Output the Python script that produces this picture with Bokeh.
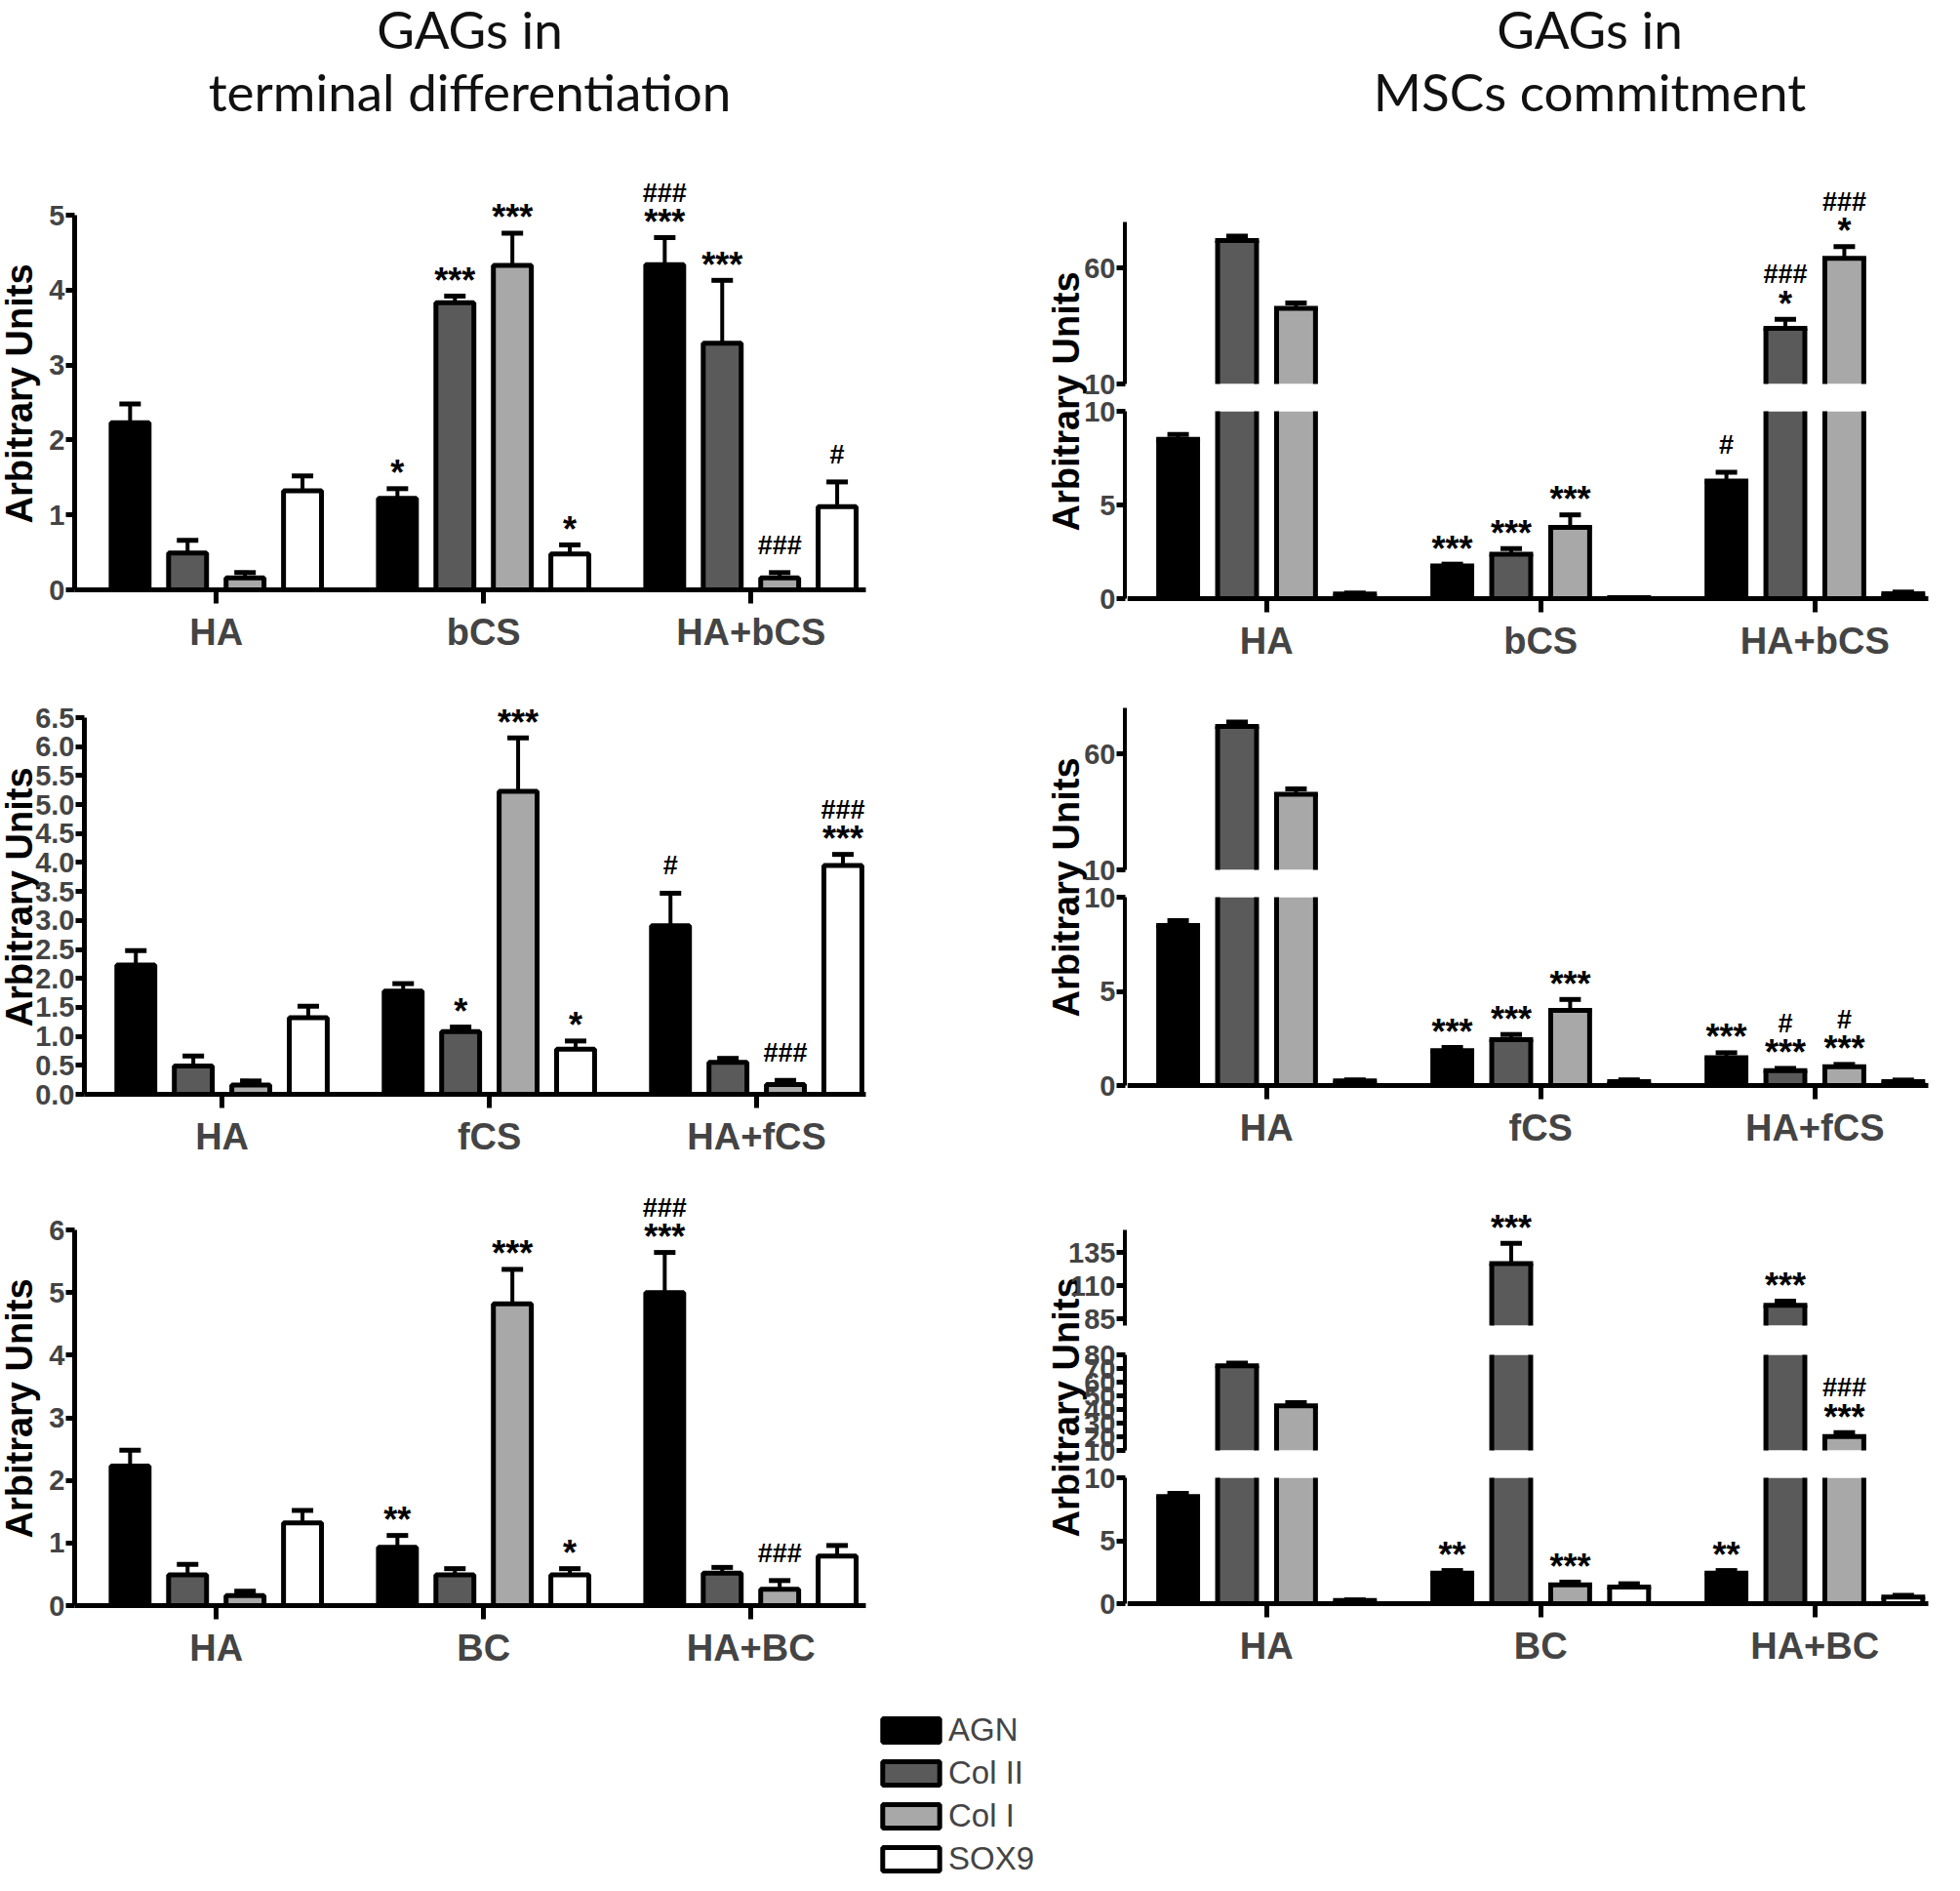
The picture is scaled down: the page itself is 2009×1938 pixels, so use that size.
import numpy as np
from bokeh.plotting import figure
from bokeh.models import (ColumnDataSource, FixedTicker, Range1d, Legend, LegendItem,
                          PrintfTickFormatter, LinearAxis)
from bokeh.layouts import column, row
from bokeh.embed import file_html
from bokeh.resources import INLINE
from bokeh.core.properties import value

# ---------------------------------------------------------------- data
series = ["AGN", "Col II", "Col I", "SOX9"]
series_colors = ["#000000", "#5a5a5a", "#a8a8a8", "#ffffff"]

title_left = ["GAGs in", "terminal differentiation"]
title_right = ["GAGs in", "MSCs commitment"]
y_title = "Arbitrary Units"

groups_bcs = ["HA", "bCS", "HA+bCS"]
groups_fcs = ["HA", "fCS", "HA+fCS"]
groups_bc = ["HA", "BC", "HA+BC"]

# terminal differentiation (rows = groups, columns = series)
td_bcs_mean = [[2.23, 0.49, 0.16, 1.32], [1.22, 3.83, 4.33, 0.48], [4.34, 3.29, 0.16, 1.11]]
td_bcs_sem = [[0.25, 0.17, 0.07, 0.20], [0.13, 0.09, 0.43, 0.12], [0.36, 0.84, 0.07, 0.33]]
td_bcs_star = [["", "", "", ""], ["*", "***", "***", "*"], ["***", "***", "", ""]]
td_bcs_hash = [["", "", "", ""], ["", "", "", ""], ["###", "", "###", "#"]]

td_fcs_mean = [[2.23, 0.49, 0.16, 1.32], [1.78, 1.08, 5.23, 0.78], [2.91, 0.55, 0.17, 3.95]]
td_fcs_sem = [[0.25, 0.17, 0.07, 0.20], [0.13, 0.08, 0.92, 0.14], [0.56, 0.07, 0.07, 0.19]]
td_fcs_star = [["", "", "", ""], ["", "*", "***", "*"], ["", "", "", "***"]]
td_fcs_hash = [["", "", "", ""], ["", "", "", ""], ["#", "", "###", "###"]]

td_bc_mean = [[2.23, 0.49, 0.16, 1.32], [0.93, 0.49, 4.82, 0.49], [5.00, 0.52, 0.26, 0.79]]
td_bc_sem = [[0.25, 0.17, 0.07, 0.20], [0.19, 0.10, 0.55, 0.10], [0.64, 0.09, 0.14, 0.17]]
td_bc_star = [["", "", "", ""], ["**", "", "***", "*"], ["***", "", "", ""]]
td_bc_hash = [["", "", "", ""], ["", "", "", ""], ["###", "", "###", ""]]

# MSCs commitment
msc_bcs_mean = [[8.5, 72.0, 42.7, 0.25], [1.75, 2.37, 3.80, 0.05], [6.28, 34.0, 64.3, 0.26]]
msc_bcs_sem = [[0.26, 1.9, 2.3, 0.05], [0.09, 0.30, 0.67, 0.0], [0.47, 3.9, 5.0, 0.09]]
msc_bcs_star = [["", "", "", ""], ["***", "***", "***", ""], ["", "*", "*", ""]]
msc_bcs_hash = [["", "", "", ""], ["", "", "", ""], ["#", "###", "###", ""]]

msc_fcs_mean = [[8.5, 72.0, 42.7, 0.25], [1.85, 2.44, 3.99, 0.21], [1.48, 0.79, 1.00, 0.21]]
msc_fcs_sem = [[0.26, 1.9, 2.3, 0.05], [0.17, 0.27, 0.58, 0.09], [0.26, 0.12, 0.12, 0.08]]
msc_fcs_star = [["", "", "", ""], ["***", "***", "***", ""], ["***", "***", "***", ""]]
msc_fcs_hash = [["", "", "", ""], ["", "", "", ""], ["", "#", "#", ""]]

msc_bc_mean = [[8.5, 72.0, 42.7, 0.25], [2.42, 126.7, 1.50, 1.32], [2.42, 95.2, 20.2, 0.53]]
msc_bc_sem = [[0.26, 1.9, 2.3, 0.05], [0.21, 15.2, 0.21, 0.26], [0.21, 3.1, 2.9, 0.13]]
msc_bc_star = [["", "", "", ""], ["**", "***", "***", ""], ["**", "***", "***", ""]]
msc_bc_hash = [["", "", "", ""], ["", "", "", ""], ["", "", "###", ""]]

# axis ticks
ticks_td_bcs = [0, 1, 2, 3, 4, 5]
ticks_td_fcs = [0, 0.5, 1, 1.5, 2, 2.5, 3, 3.5, 4, 4.5, 5, 5.5, 6, 6.5]
ticks_td_bc = [0, 1, 2, 3, 4, 5, 6]
ticks_low = [0, 5, 10]
ticks_up = [10, 60]
ticks_bc_mid = [10, 20, 30, 40, 50, 60, 70, 80]
ticks_bc_up = [85, 110, 135]

# ---------------------------------------------------------------- style / geometry (page px)
FONT = "Liberation Sans"
offsets = [-0.3225, -0.1075, 0.1075, 0.3225]
bar_w = 0.142
STAR_OFF, HASH_OFF, HASH_STACK = 16.0, 28.0, 46.0
TICK_FONT = "29px"
CAT_FONT = "38px"
YLAB_FONT = "38px"

# left column
L_W, L_PPX = 992, 274.0
# right column
STRIP_X0, STRIP_W = 1000, 163
R_W = 837
R_AXIS_PX, R_PPX, R_X0 = 1161, 281.0, -0.515
R_START = R_X0 + (STRIP_X0 + STRIP_W - R_AXIS_PX) / R_PPX
R_END = R_X0 + (STRIP_X0 + STRIP_W + R_W - R_AXIS_PX) / R_PPX
R_XAX_END = R_X0 + (1984 - R_AXIS_PX) / R_PPX


def base_fig(width, height, xr, yr, xaxis=False, yaxis=False, bt=0, bb=0):
    p = figure(width=width, height=height, x_range=Range1d(*xr), y_range=Range1d(*yr),
               output_backend="svg", toolbar_location=None, min_border=0,
               min_border_top=bt, min_border_bottom=bb,
               x_axis_location="below" if xaxis else None,
               y_axis_location="left" if yaxis else None)
    p.outline_line_color = None
    p.grid.visible = False
    try:
        p.frame_align = False
    except Exception:
        pass
    return p


def style_yaxis(ax, bounds, ticks, fmt):
    ax.bounds = bounds
    ax.ticker = FixedTicker(ticks=ticks)
    if fmt is not None:
        ax.formatter = fmt
    ax.axis_line_width = 5
    ax.major_tick_line_width = 5
    ax.major_tick_out = 9
    ax.major_tick_in = 0
    ax.minor_tick_line_color = None
    ax.major_label_text_font = FONT
    ax.major_label_text_font_style = "bold"
    ax.major_label_text_font_size = TICK_FONT
    ax.major_label_standoff = 1


def style_xaxis(ax, groups, bounds):
    ax.fixed_location = 0
    ax.bounds = bounds
    ax.ticker = FixedTicker(ticks=list(range(len(groups))))
    ax.major_label_overrides = {i: g for i, g in enumerate(groups)}
    ax.axis_line_width = 5
    ax.major_tick_line_width = 5
    ax.major_tick_out = 14
    ax.major_tick_in = 0
    ax.minor_tick_line_color = None
    ax.major_label_text_font = FONT
    ax.major_label_text_font_style = "bold"
    ax.major_label_text_font_size = CAT_FONT
    ax.major_label_standoff = 8


def draw_bars(p, groups, means, sems, stars, hashes, seg_lo, seg_hi, ppu,
              open_top=None):
    """Bars, error bars and significance marks of one axis segment.
    open_top: upper data limit of the segment frame when the bars may be cut by a break."""
    m = np.asarray(means, float)
    s = np.asarray(sems, float)
    e = m + s
    gx = np.arange(len(groups), dtype=float)
    for k, col in enumerate(series_colors):
        keep = m[:, k] > seg_lo
        xs = (gx + offsets[k])[keep]
        tops = m[keep, k]
        if open_top is None:
            p.vbar(x=xs, top=tops, bottom=0, width=bar_w,
                   fill_color=col, line_color="black", line_width=5)
        else:
            # bars drawn as fill + outline strokes so they stay open at the axis breaks
            p.vbar(x=xs, top=tops, bottom=0, width=bar_w, fill_color=col, line_color=None)
            xl, xr = xs - bar_w / 2, xs + bar_w / 2
            zeros = np.zeros_like(tops)
            p.segment(x0=np.concatenate([xl, xr]), y0=np.concatenate([zeros, zeros]),
                      x1=np.concatenate([xl, xr]), y1=np.concatenate([tops, tops]),
                      line_color="black", line_width=5)
            inside = tops <= open_top
            p.segment(x0=xl[inside], y0=tops[inside], x1=xr[inside], y1=tops[inside],
                      line_color="black", line_width=5, line_cap="square")
    ex, ey0, ey1 = [], [], []
    sx, sy, st, hx, hy, ht = [], [], [], [], [], []
    for g in range(len(groups)):
        for k in range(len(series)):
            xg = gx[g] + offsets[k]
            if s[g, k] > 0 and m[g, k] >= seg_lo and e[g, k] <= seg_hi:
                ex.append(xg); ey0.append(m[g, k]); ey1.append(e[g, k])
            if seg_lo <= e[g, k] <= seg_hi:
                if stars[g][k]:
                    sx.append(xg); sy.append(e[g, k] + STAR_OFF / ppu); st.append(stars[g][k])
                if hashes[g][k]:
                    off = HASH_STACK if stars[g][k] else HASH_OFF
                    hx.append(xg); hy.append(e[g, k] + off / ppu); ht.append(hashes[g][k])
    p.segment(x0=ex, y0=ey0, x1=ex, y1=ey1, line_color="black", line_width=4)
    p.scatter(x=ex, y=ey1, marker="dash", size=22, line_color="black", line_width=5)
    p.text(x=sx, y=sy, text=st, text_font=value(FONT), text_font_style="bold",
           text_font_size="36px", text_align="center", text_baseline="alphabetic")
    p.text(x=hx, y=hy, text=ht, text_font=value(FONT), text_font_style="bold",
           text_font_size="27px", text_align="center", text_baseline="alphabetic")


def add_title(p, lines, x, y1, y2):
    p.text(x=[x, x], y=[y1, y2], text=lines, text_font=value("Lato"),
           text_font_size="53px", text_align="center", text_baseline="alphabetic",
           text_color="#111111")


def left_panel(groups, means, sems, stars, hashes, ticks, fmt,
               row_top, row_h, zero, top_page, top_val, lab_y,
               axis_px=84, x0=-0.53, title=None):
    ppu = (zero - top_page) / top_val
    xs = x0 - (axis_px - 8) / L_PPX
    xe = x0 + (L_W + 8 - axis_px) / L_PPX
    p = base_fig(L_W, row_h, (xs, xe),
                 (-(row_top + row_h - zero) / ppu, (zero - row_top) / ppu), True, True)
    draw_bars(p, groups, means, sems, stars, hashes, 0, top_val, ppu)
    ay = p.yaxis[0]
    ay.fixed_location = x0
    style_yaxis(ay, (0, top_val), ticks, fmt)
    style_xaxis(p.xaxis[0], groups, (x0, x0 + (895 - axis_px) / L_PPX))
    p.text(x=[x0 - (axis_px - 27.5) / L_PPX], y=[(zero - lab_y) / ppu], text=[y_title],
           angle=np.pi / 2, text_font=value(FONT), text_font_style="bold",
           text_font_size=YLAB_FONT, text_align="center", text_baseline="middle")
    if title is not None:
        xt = x0 + (489 - axis_px) / L_PPX
        add_title(p, title, xt, (zero - 37) / ppu, (zero - 101) / ppu)
    return p


def right_panel(groups, means, sems, stars, hashes, segs, row_top, row_h, lab_y, title=None):
    figs = []
    n = len(segs)
    for i, (c0, c1, f1, axis_top, lo, hi, ticks) in enumerate(segs):
        ppu = (f1 - axis_top) / (hi - lo)
        first, last = i == 0, i == n - 1
        # frame: open at the outer edges of the panel, bordered at the axis breaks
        ft = c0 if first else axis_top
        fb = c1 if last else f1
        y0 = lo - (fb - f1) / ppu
        y1 = lo + (f1 - ft) / ppu
        p = base_fig(R_W, c1 - c0, (R_START, R_END), (y0, y1), xaxis=last,
                     bt=ft - c0, bb=c1 - fb)
        draw_bars(p, groups, means, sems, stars, hashes, lo, hi, ppu, open_top=y1)
        if last:
            style_xaxis(p.xaxis[0], groups, (R_START, R_XAX_END))
        if title is not None and first:
            xt = R_X0 + (1637 - R_AXIS_PX) / R_PPX
            add_title(p, title, xt, lo + (f1 - 37) / ppu, lo + (f1 - 101) / ppu)
        figs.append(p)
    # strip with the broken y axes and the axis title
    s = base_fig(STRIP_W, row_h, (0, STRIP_W), (0, row_h))
    extra = {}
    axes = []
    for i, (c0, c1, f1, axis_top, lo, hi, ticks) in enumerate(segs):
        ppu = (f1 - axis_top) / (hi - lo)
        name = "seg%d" % i
        extra[name] = Range1d(lo - (row_top + row_h - f1) / ppu, lo + (f1 - row_top) / ppu)
        ax = LinearAxis(y_range_name=name, fixed_location=R_AXIS_PX - STRIP_X0)
        style_yaxis(ax, (lo, hi), ticks, None)
        axes.append(ax)
    s.extra_y_ranges = extra
    for ax in axes:
        s.add_layout(ax, "left")
    s.text(x=[1100 - STRIP_X0], y=[row_h - (lab_y - row_top)], text=[y_title], angle=np.pi / 2,
           text_font=value(FONT), text_font_style="bold", text_font_size=YLAB_FONT,
           text_align="center", text_baseline="middle")
    return s, column(*figs, spacing=0)


# ---------------------------------------------------------------- panels
tl = left_panel(groups_bcs, td_bcs_mean, td_bcs_sem, td_bcs_star, td_bcs_hash, ticks_td_bcs, None,
                8, 692, 612, 228, 5, 411, title=title_left)
ml = left_panel(groups_fcs, td_fcs_mean, td_fcs_sem, td_fcs_star, td_fcs_hash, ticks_td_fcs,
                PrintfTickFormatter(format="%.1f"), 700, 525, 1129, 743, 6.5, 927,
                axis_px=94, x0=-0.515)
bl = left_panel(groups_bc, td_bc_mean, td_bc_sem, td_bc_star, td_bc_hash, ticks_td_bc, None,
                1225, 525, 1653, 1268, 6, 1451)

# segments: canvas top, canvas bottom, page y of segment start, page y of segment end, lo, hi, ticks
tr_strip, tr = right_panel(groups_bcs, msc_bcs_mean, msc_bcs_sem, msc_bcs_star, msc_bcs_hash,
                           [(8, 407, 401, 235, 10, 80, ticks_up),
                            (407, 700, 621, 429, 0, 10, ticks_low)], 8, 692, 419,
                           title=title_right)
mr_strip, mr = right_panel(groups_fcs, msc_fcs_mean, msc_fcs_sem, msc_fcs_star, msc_fcs_hash,
                           [(700, 905, 899, 733, 10, 80, ticks_up),
                            (905, 1225, 1120, 927, 0, 10, ticks_low)], 700, 525, 917)
br_strip, br = right_panel(groups_bc, msc_bc_mean, msc_bc_sem, msc_bc_star, msc_bc_hash,
                           [(1225, 1372, 1366, 1268, 80, 152, ticks_bc_up),
                            (1372, 1500, 1494, 1396, 10, 80, ticks_bc_mid),
                            (1500, 1750, 1651, 1522, 0, 10, ticks_low)], 1225, 525, 1450)

# ---------------------------------------------------------------- legend
TOTAL_W = L_W + STRIP_W + R_W
lf = base_fig(TOTAL_W, 180, (0, 1), (0, 1))
items = []
for name, col in zip(series, series_colors):
    r = lf.vbar(x=[0.5], top=[1], width=0.1, fill_color=col, line_color="black",
                line_width=5, visible=False)
    items.append(LegendItem(label=name, renderers=[r]))
legend = Legend(items=items, location=(897, -2), orientation="vertical",
                glyph_width=73, glyph_height=30, label_standoff=2, spacing=6,
                padding=0, margin=0, label_height=38, label_text_font=FONT,
                label_text_font_size="33px", label_text_baseline="alphabetic",
                border_line_color=None, background_fill_alpha=0,
                click_policy="none")
lf.add_layout(legend, "center")

layout = column(
    row(tl, tr_strip, tr, spacing=0),
    row(ml, mr_strip, mr, spacing=0),
    row(bl, br_strip, br, spacing=0),
    lf,
    spacing=0,
)

open("out.html", "w").write(file_html(layout, INLINE))
